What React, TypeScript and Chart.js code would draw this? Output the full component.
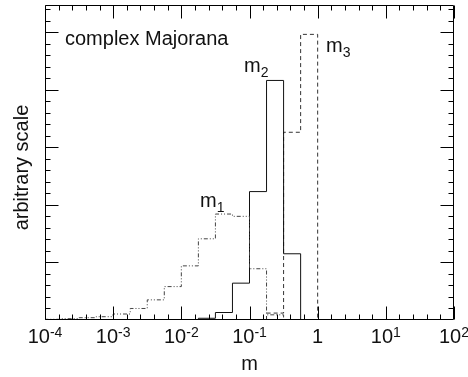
import React, { useEffect, useRef } from "react";
import { Chart, registerables } from "chart.js";

Chart.register(...registerables);

// ---- data (heights in arbitrary units, bins of 1/4 decade in m) ----
const binWidthDecades = 0.25;
const m1StartExp = -4;
const m1Values = [0.012, 0.023, 0.04, 0.057, 0.104, 0.2, 0.35, 0.58, 0.94, 1.41, 1.84, 1.8, 0.89, 0.09];
const m2StartExp = -1.75;
const m2Values = [0.03, 0.13, 0.64, 2.23, 4.16, 1.15];
const m3StartExp = -0.75;
const m3Values = [0.12, 3.26, 4.96];
const xTickExponents = [-4, -3, -2, -1, 0, 1, 2];
const xMinorPerDecade = 5;
const yMajorStep = 1;
const yMinorPerMajor = 5;
const yMax = 5.47;
const xTitle = "m";
const yTitle = "arbitrary scale";
const panelLabel = "complex Majorana";
const seriesNames = ["m", "m", "m"];
const seriesSubs = ["1", "2", "3"];

// annotation anchors in data units (log10 m, height)
const labelAnchors = [
  { logX: -1.726, y: 1.96 },
  { logX: -1.08, y: 4.31 },
  { logX: 0.122, y: 4.65 },
];
const panelAnchor = { logX: -3.707, y: 4.77 };

const FONT = "'Liberation Sans', Arial, Helvetica, sans-serif";

function stepPoints(startExp: number, values: number[]) {
  const pts: { x: number; y: number }[] = [{ x: Math.pow(10, startExp), y: 0 }];
  values.forEach((v, i) => pts.push({ x: Math.pow(10, startExp + i * binWidthDecades), y: v }));
  pts.push({ x: Math.pow(10, startExp + values.length * binWidthDecades), y: 0 });
  return pts;
}

const framePlugin = {
  id: "framePlugin",
  afterDraw(chart: any) {
    const ctx = chart.ctx as CanvasRenderingContext2D;
    const { left, right, top, bottom } = chart.chartArea;
    const xs = chart.scales.x;
    const ys = chart.scales.y;
    ctx.save();
    ctx.strokeStyle = "#000";
    ctx.lineWidth = 1;
    const L = Math.round(left) + 0.5;
    const R = Math.round(right) - 0.5;
    const T = Math.round(top) + 0.5;
    const B = Math.round(bottom) - 0.5;
    ctx.beginPath();
    ctx.rect(L, T, R - L, B - T);
    ctx.stroke();

    const major = 13;
    const minor = 5;
    ctx.beginPath();
    for (let k = 0; k < xTickExponents.length; k++) {
      const e = xTickExponents[k];
      const px = Math.round(xs.getPixelForValue(Math.pow(10, e))) + 0.5;
      ctx.moveTo(px, B); ctx.lineTo(px, B - major);
      ctx.moveTo(px, T); ctx.lineTo(px, T + major);
      if (k < xTickExponents.length - 1) {
        for (let j = 1; j < xMinorPerDecade; j++) {
          const mx = Math.round(xs.getPixelForValue(Math.pow(10, e + j / xMinorPerDecade))) + 0.5;
          ctx.moveTo(mx, B); ctx.lineTo(mx, B - minor);
          ctx.moveTo(mx, T); ctx.lineTo(mx, T + minor);
        }
      }
    }
    const step = yMajorStep / yMinorPerMajor;
    for (let i = 1; i * step <= yMax + 1e-9; i++) {
      const v = i * step;
      const py = Math.round(ys.getPixelForValue(v)) + 0.5;
      const len = i % yMinorPerMajor === 0 ? major : minor;
      ctx.moveTo(L, py); ctx.lineTo(L + len, py);
      ctx.moveTo(R, py); ctx.lineTo(R - len, py);
    }
    ctx.stroke();

    ctx.fillStyle = "#111";
    ctx.textBaseline = "alphabetic";
    const baseFont = `20px ${FONT}`;
    const supFont = `14px ${FONT}`;
    const labelY = bottom + 23;
    for (const e of xTickExponents) {
      const px = xs.getPixelForValue(Math.pow(10, e));
      if (e === 0) {
        ctx.font = baseFont;
        ctx.textAlign = "center";
        ctx.fillText("1", px, labelY);
        continue;
      }
      ctx.textAlign = "left";
      ctx.font = baseFont;
      const w1 = ctx.measureText("10").width;
      ctx.font = supFont;
      const sup = String(e);
      const w2 = ctx.measureText(sup).width;
      const x0 = px - (w1 + w2) / 2;
      ctx.font = baseFont;
      ctx.fillText("10", x0, labelY);
      ctx.font = supFont;
      ctx.fillText(sup, x0 + w1, labelY - 6);
    }

    ctx.font = baseFont;
    ctx.textAlign = "center";
    ctx.fillText(xTitle, (left + right) / 2, bottom + 50);
    ctx.save();
    ctx.translate(28, (top + bottom) / 2 + 5);
    ctx.rotate(-Math.PI / 2);
    ctx.fillText(yTitle, 0, 0);
    ctx.restore();

    ctx.textAlign = "left";
    ctx.font = baseFont;
    ctx.fillText(panelLabel, xs.getPixelForValue(Math.pow(10, panelAnchor.logX)), ys.getPixelForValue(panelAnchor.y));

    labelAnchors.forEach((a, i) => {
      const px = xs.getPixelForValue(Math.pow(10, a.logX));
      const py = ys.getPixelForValue(a.y);
      ctx.font = baseFont;
      ctx.fillText(seriesNames[i], px, py);
      const w = ctx.measureText(seriesNames[i]).width;
      ctx.font = supFont;
      ctx.fillText(seriesSubs[i], px + w, py + 5);
    });
    ctx.restore();
  },
};

export default function App() {
  const ref = useRef<HTMLCanvasElement | null>(null);
  useEffect(() => {
    if (!ref.current) return;
    const chart = new Chart(ref.current, {
      type: "line",
      data: {
        datasets: [
          {
            label: "m1",
            data: stepPoints(m1StartExp, m1Values),
            stepped: "before",
            borderColor: "#444",
            borderWidth: 1,
            borderDash: [4, 2, 1, 2, 1, 2],
            pointRadius: 0,
            fill: false,
          },
          {
            label: "m2",
            data: stepPoints(m2StartExp, m2Values),
            stepped: "before",
            borderColor: "#111",
            borderWidth: 1,
            pointRadius: 0,
            fill: false,
          },
          {
            label: "m3",
            data: stepPoints(m3StartExp, m3Values),
            stepped: "before",
            borderColor: "#333",
            borderWidth: 1,
            borderDash: [4, 3],
            pointRadius: 0,
            fill: false,
          },
        ],
      },
      options: {
        animation: false,
        responsive: false,
        layout: { padding: { left: 45, right: 14, top: 5, bottom: 57 } },
        plugins: { legend: { display: false }, tooltip: { enabled: false } },
        scales: {
          x: {
            type: "logarithmic",
            min: Math.pow(10, xTickExponents[0]),
            max: Math.pow(10, xTickExponents[xTickExponents.length - 1]),
            display: false,
          },
          y: { type: "linear", min: 0, max: yMax, display: false },
        },
      },
      plugins: [framePlugin],
    });
    return () => chart.destroy();
  }, []);
  return (
    <div style={{ position: "absolute", left: 0, top: 0, width: 468, height: 377, background: "#fff" }}>
      <canvas ref={ref} width={468} height={377} style={{ display: "block" }} />
    </div>
  );
}
